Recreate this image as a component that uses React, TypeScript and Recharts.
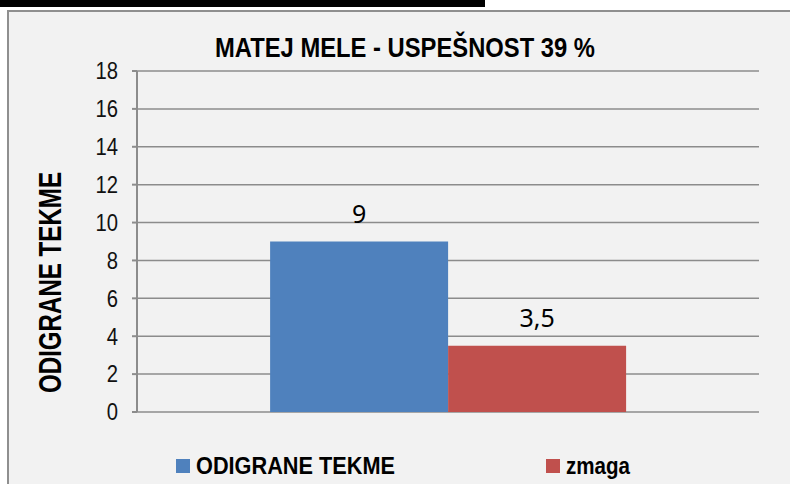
import React from 'react';
import { BarChart, Bar, XAxis, YAxis, CartesianGrid, LabelList } from 'recharts';

const categories = ['MATEJ MELE'];
const seriesNames = ['ODIGRANE TEKME', 'zmaga'];
const playedValues = [9];
const winValues = [3.5];
const yTicks = [0, 2, 4, 6, 8, 10, 12, 14, 16, 18];
const titleText = 'MATEJ MELE - USPEŠNOST 39 %';
const yAxisTitle = 'ODIGRANE  TEKME';

const colors = ['#4F81BD', '#C0504D'];
const FONT = '"Liberation Sans", Arial, sans-serif';

const data = categories.map((c, i) => ({ name: c, played: playedValues[i], wins: winValues[i] }));
const keys = ['played', 'wins'];

const fmt = (v: any) => String(v).replace('.', ',');

const NarrowTick = (props: any) => {
  const { x, y, payload } = props;
  return (
    <g transform={`translate(${x},${y}) scale(0.88,1)`}>
      <text x={0} y={0} dy="0.36em" textAnchor="end" fontFamily={FONT} fontSize={23} fill="#111">
        {payload.value}
      </text>
    </g>
  );
};

const legendPos = [
  { sx: 176, tx: 196, len: 199 },
  { sx: 546, tx: 566, len: 64 },
];

export default function App() {
  return (
    <div style={{ position: 'absolute', left: 0, top: 0, width: 790, height: 484, overflow: 'hidden', background: '#ffffff' }}>
      <div style={{ position: 'absolute', left: 0, top: 0, width: 485, height: 7, background: '#000' }} />
      <div style={{ position: 'absolute', left: 7, top: 10, width: 820, height: 520, background: '#f2f2f2', border: '2px solid #8f8f8f', boxSizing: 'border-box' }} />
      <svg width={790} height={484} style={{ position: 'absolute', left: 0, top: 0 }}>
        <text x={215} y={57} fontFamily={FONT} fontWeight="bold" fontSize={27.5} fill="#000" textLength={380} lengthAdjust="spacingAndGlyphs">{titleText}</text>
        <text transform="translate(61,393) rotate(-90)" x={0} y={0} fontFamily={FONT} fontWeight="bold" fontSize={31} fill="#000" textLength={221} lengthAdjust="spacingAndGlyphs">{yAxisTitle}</text>
        {seriesNames.map((n, i) => (
          <g key={n}>
            <rect x={legendPos[i].sx} y={459} width={14} height={14} fill={colors[i]} />
            <text x={legendPos[i].tx} y={474} fontFamily={FONT} fontWeight="bold" fontSize={23} fill="#000" textLength={legendPos[i].len} lengthAdjust="spacingAndGlyphs">{n}</text>
          </g>
        ))}
      </svg>
      <div style={{ position: 'absolute', left: 0, top: 0 }}>
        <BarChart width={790} height={484} data={data} margin={{ top: 71, right: 31, bottom: 72, left: 0 }} barGap={0} barCategoryGap="21.4%">
          <CartesianGrid vertical={false} stroke="#8c8c8c" strokeWidth={1.5} />
          <XAxis dataKey="name" tick={false} height={0} axisLine={{ stroke: '#8c8c8c', strokeWidth: 2 }} tickLine={false} />
          <YAxis
            width={137}
            domain={[0, 18]}
            ticks={yTicks}
            interval={0}
            tickSize={5}
            tickMargin={14}
            axisLine={{ stroke: '#8c8c8c', strokeWidth: 2 }}
            tickLine={{ stroke: '#8c8c8c', strokeWidth: 2 }}
            tick={<NarrowTick />}
          />
          {keys.map((k, i) => (
            <Bar key={k} dataKey={k} name={seriesNames[i]} fill={colors[i]} isAnimationActive={false}>
              <LabelList dataKey={k} position="top" offset={19} formatter={fmt} fill="#000" fontSize={25} fontFamily='"Noto Sans", sans-serif' />
            </Bar>
          ))}
        </BarChart>
      </div>
    </div>
  );
}
